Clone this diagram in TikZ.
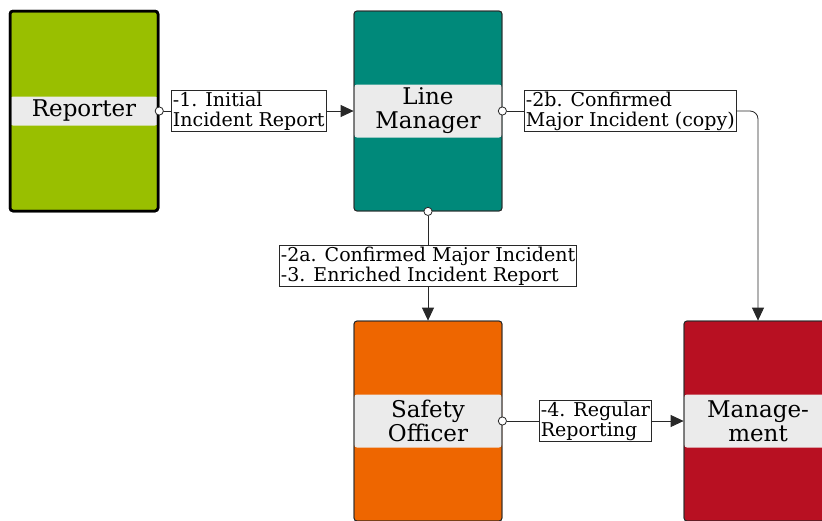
\documentclass[tikz,border=0pt]{standalone}
\usepackage{fontspec}
\setmainfont{DejaVu Serif}
\usetikzlibrary{arrows.meta}
\usetikzlibrary{positioning}

\definecolor{repgreen}{RGB}{153,191,0}
\definecolor{lmteal}{RGB}{0,137,122}
\definecolor{soorange}{RGB}{238,102,0}
\definecolor{mgred}{RGB}{184,16,34}
\definecolor{bandgray}{RGB}{235,235,235}
\definecolor{linegray}{RGB}{40,40,40}

\begin{document}
\begin{tikzpicture}[x=1pt,y=-1pt,>={Triangle[length=13pt,width=12pt]},
		lane/.style={rectangle,draw=linegray,line width=0.8pt,rounded corners=3pt,
			minimum width=148pt,minimum height=200pt,inner sep=0pt,align=center,
			font=\fontsize{23}{24}\selectfont,postaction={draw}},
		band/.style={path picture={\fill[bandgray]
				([yshift=#1]path picture bounding box.west) rectangle
				([yshift=-#1]path picture bounding box.east);}},
		flow/.style={rectangle,draw=linegray,line width=0.8pt,fill=white,
			align=left,inner sep=1.5pt,font=\fontsize{19}{20}\selectfont},
		link/.style={{Circle[open,fill=white,length=9pt]}-,shorten <=-4.5pt,
			draw=linegray,line width=0.8pt},
		arr/.style={->,draw=linegray,line width=0.8pt}]
	
	\useasboundingbox (0,0) rectangle (822,520);
	
	% lanes
	\node[lane, band=14.5pt, fill=repgreen, line width=2.5pt, draw=black] (rep) at (84,111) {Reporter};
	\node[lane, band=26.5pt, fill=lmteal] (lm) at (428,111) {Line\\Manager};
	\node[lane, band=26.5pt, fill=soorange] (so) at (428,421) {Safety\\Officer};
	\node[lane, band=26.5pt, fill=mgred] (mgmt) at (758,421) {Manage-\\ment};
	
	% flow labels
	\node[flow, anchor=west] (lab1) at (171,111) {-1. Initial\\Incident Report};
	\node[flow, anchor=west] (lab2) at (524,111) {-2b. Confirmed\\Major Incident (copy)};
	\node[flow] (lab3) at (428,266) {-2a. Confirmed Major Incident\\-3. Enriched Incident Report};
	\node[flow, anchor=west] (lab4) at (539,421) {-4. Regular\\Reporting};
	
	\draw[link] (rep) -- (lab1);
	\draw[arr] (lab1) -- (lm);
	\draw[link] (lm) -- (lab2);
	\draw[arr, rounded corners=8pt] (lab2) -| (mgmt);
	\draw[link] (lm) -- (lab3);
	\draw[arr] (lab3) -- (so);
	\draw[link] (so) -- (lab4);
	\draw[arr] (lab4) -- (mgmt);
\end{tikzpicture}
\end{document}
